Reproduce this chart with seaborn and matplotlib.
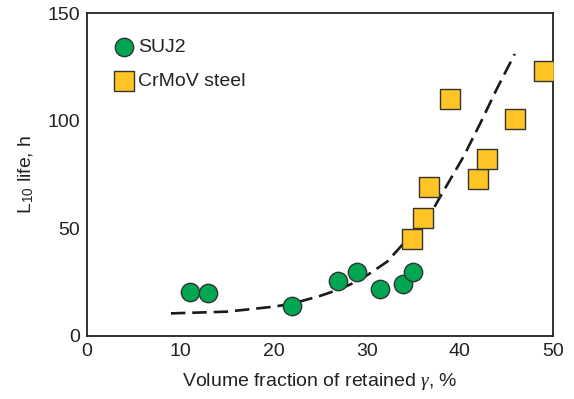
import numpy as np
import pandas as pd
import matplotlib
matplotlib.use("Agg")
import matplotlib.pyplot as plt
import seaborn as sns

# --- data ---
suj2_x = [11, 13, 22, 26.9, 29, 31.4, 33.9, 35]
suj2_y = [20.4, 20, 14, 25.5, 29.8, 22, 24, 29.8]
crmov_x = [34.9, 36.0, 36.7, 38.9, 41.9, 42.9, 45.9, 49.0]
crmov_y = [45, 55, 69, 110, 73, 82, 101, 123]
trend_x = [9, 15, 20, 22, 25, 27.1, 29.3, 32.2, 34.3, 36.8, 37.9, 40.4, 42.2, 44.0, 45.9]
trend_y = [10.5, 11.3, 13.6, 15, 18.6, 21.7, 26, 34.5, 44.6, 56.2, 64.7, 83.3, 98.8, 115, 131]
x_ticks = [0, 10, 20, 30, 40, 50]
y_ticks = [0, 50, 100, 150]

sns.set_theme(style="white")
plt.rcParams['font.family'] = ['Liberation Sans', 'DejaVu Sans']
plt.rcParams['mathtext.fontset'] = 'custom'
plt.rcParams['mathtext.rm'] = 'Liberation Sans'
plt.rcParams['mathtext.it'] = 'Liberation Serif:italic'

fig = plt.figure(figsize=(5.74, 3.99), dpi=100)
ax = fig.add_axes([87/574, 1-336/399, (553-87)/574, (336-13)/399])

green = "#00A651"
yellow = "#FFC524"
edge = "#333333"

trend = pd.DataFrame({"x": trend_x, "y": trend_y})
sns.lineplot(data=trend, x="x", y="y", ax=ax, color="#1a1a1a", lw=1.9,
             linestyle=(0, (5.5, 2.6)), zorder=2, sort=False)

df1 = pd.DataFrame({"x": suj2_x, "y": suj2_y})
df2 = pd.DataFrame({"x": crmov_x, "y": crmov_y})
sns.scatterplot(data=df1, x="x", y="y", ax=ax, marker="o", s=175, color=green,
                edgecolor=edge, linewidth=1.0, label="SUJ2", zorder=3)
sns.scatterplot(data=df2, x="x", y="y", ax=ax, marker="s", s=215, color=yellow,
                edgecolor=edge, linewidth=1.0, label="CrMoV steel", zorder=3)

ax.set_xlim(0, 50)
ax.set_ylim(0, 150)
ax.set_xticks(x_ticks)
ax.set_yticks(y_ticks)
ax.tick_params(direction="in", length=7, width=1.1, colors="#222222",
               labelsize=14, pad=5)
for sp in ax.spines.values():
    sp.set_visible(True)
    sp.set_linewidth(1.3)
    sp.set_color("#222222")

ax.set_xlabel(r"Volume fraction of retained $\gamma$, %", fontsize=14, color="#222222", labelpad=8)
ax.set_ylabel(r"L$_{\mathrm{10}}$ life, h", fontsize=14, color="#222222", labelpad=8)

leg = ax.legend(loc="upper left", bbox_to_anchor=(0.028, 0.962), frameon=False,
                fontsize=14, handletextpad=0.15, labelspacing=0.8,
                borderaxespad=0.3, handlelength=1.1)
for t in leg.get_texts():
    t.set_color("#222222")

fig.savefig("out.png", dpi=100)
